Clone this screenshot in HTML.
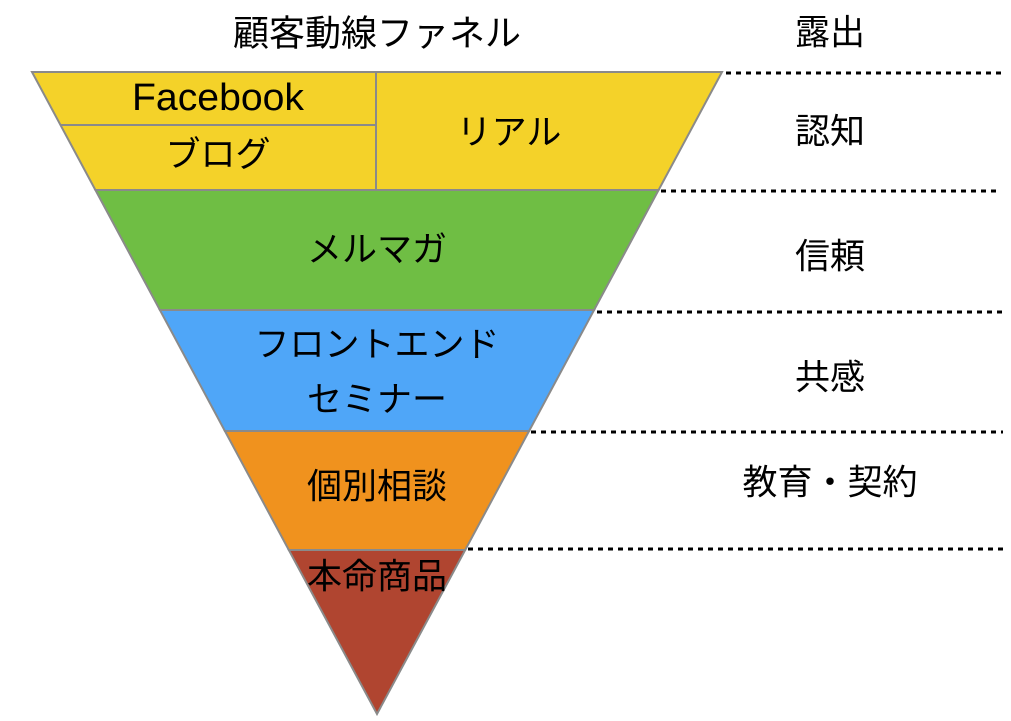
<!DOCTYPE html>
<html><head><meta charset="utf-8"><style>
html,body{margin:0;padding:0;background:#fff;}
svg text{font-family:"Liberation Sans","Noto Sans CJK JP",sans-serif;font-size:35px;fill:#000;text-anchor:middle;dominant-baseline:central;}
</style></head><body>
<svg width="1011" height="716" viewBox="0 0 1011 716" xmlns="http://www.w3.org/2000/svg">
<g stroke="#8a8a8a" stroke-width="2">
<polygon points="32,72 722,72 658.6,190 95.4,190" fill="#f4d229"/>
<polygon points="95.4,190 658.6,190 594.1,310 159.9,310" fill="#6fbe44"/>
<polygon points="159.9,310 594.1,310 529.1,431 224.9,431" fill="#4fa6f8"/>
<polygon points="224.9,431 529.1,431 465.2,550 288.8,550" fill="#f0921e"/>
<polygon points="288.8,550 465.2,550 377,714" fill="#b04530"/>
<line x1="376" y1="72" x2="376" y2="190"/>
<line x1="60" y1="125" x2="376" y2="125"/>
</g>
<g stroke="#000" stroke-width="3" stroke-dasharray="5,5">
<line x1="726" y1="73" x2="1003" y2="73"/>
<line x1="661" y1="191" x2="1000" y2="191"/>
<line x1="597" y1="312" x2="1003" y2="312"/>
<line x1="531" y1="432" x2="1003" y2="432"/>
<line x1="468" y1="549" x2="1003" y2="549"/>
</g>
<text x="377" y="33" style="font-size:36px">顧客動線ファネル</text>
<text x="830" y="33">露出</text>
<text x="830" y="132">認知</text>
<text x="830" y="257">信頼</text>
<text x="830" y="378">共感</text>
<text x="830" y="483">教育・契約</text>
<text x="218" y="98" style="font-size:38px" textLength="172" lengthAdjust="spacingAndGlyphs">Facebook</text>
<text x="218" y="155">ブログ</text>
<text x="509" y="133">リアル</text>
<text x="377" y="250">メルマガ</text>
<text x="377" y="345">フロントエンド</text>
<text x="377" y="400">セミナー</text>
<text x="377" y="487">個別相談</text>
<text x="377" y="577">本命商品</text>
</svg>
</body></html>
